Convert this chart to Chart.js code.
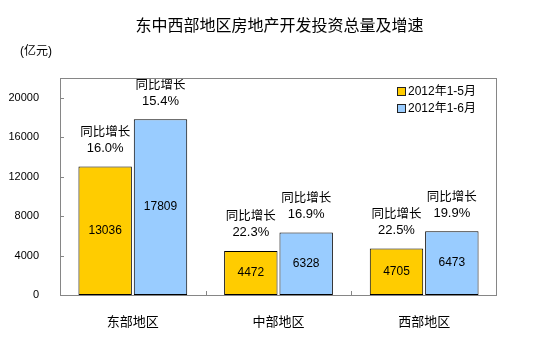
<!DOCTYPE html>
<html>
<head>
<meta charset="utf-8">
<script src="https://cdn.jsdelivr.net/npm/chart.js@4.4.0/dist/chart.umd.min.js"></script>
<style>
  html, body { margin: 0; padding: 0; background: #fff; }
  #wrap { width: 555px; height: 337px; }
</style>
</head>
<body>
<div id="wrap"><canvas id="myChart"></canvas></div>
<script>
var regions = ['东部地区', '中部地区', '西部地区'];
var seriesNames = ['2012年1-5月', '2012年1-6月'];
var investMay = [13036, 4472, 4705];
var investJun = [17809, 6328, 6473];
var growthMay = ['16.0%', '22.3%', '22.5%'];
var growthJun = ['15.4%', '16.9%', '19.9%'];
var yTicks = [0, 4000, 8000, 12000, 16000, 20000];
var chartTitle = '东中西部地区房地产开发投资总量及增速';
var unitLabel = '(亿元)';

var FONT = '"Liberation Sans", "Noto Sans CJK SC", sans-serif';
var growth = [growthMay, growthJun];

// frame around the plot area + inner tick marks
var framePlugin = {
  id: 'frame',
  afterDraw: function (chart) {
    var ctx = chart.ctx, a = chart.chartArea;
    var x = chart.scales.x, y = chart.scales.y;
    ctx.save();
    ctx.strokeStyle = '#868686';
    ctx.lineWidth = 1;
    ctx.strokeRect(Math.round(a.left) + 0.5, Math.round(a.top) + 0.5,
      Math.round(a.right - a.left) - 1, Math.round(a.bottom - a.top));
    ctx.beginPath();
    yTicks.forEach(function (v) {
      var py = Math.round(y.getPixelForValue(v)) + 0.5;
      ctx.moveTo(a.left, py);
      ctx.lineTo(a.left + 4, py);
    });
    for (var i = 1; i < regions.length; i++) {
      var px = Math.round((x.getPixelForValue(i - 1) + x.getPixelForValue(i)) / 2) + 0.5;
      ctx.moveTo(px, a.bottom);
      ctx.lineTo(px, a.bottom - 4);
    }
    ctx.stroke();
    ctx.restore();
  }
};

// value inside bars, growth rate above
var labelPlugin = {
  id: 'barLabels',
  afterDatasetsDraw: function (chart) {
    var ctx = chart.ctx;
    ctx.save();
    ctx.fillStyle = '#000';
    ctx.textAlign = 'center';
    ctx.textBaseline = 'middle';
    chart.data.datasets.forEach(function (ds, di) {
      chart.getDatasetMeta(di).data.forEach(function (bar, i) {
        ctx.font = '12px ' + FONT;
        ctx.fillText(String(ds.data[i]), bar.x, (bar.y + bar.base) / 2);
        ctx.font = '13px ' + FONT;
        ctx.fillText(growth[di][i], bar.x, bar.y - 18);
        ctx.font = '12.5px ' + FONT;
        ctx.fillText('同比增长', bar.x, bar.y - 34);
      });
    });
    ctx.restore();
  }
};

// title, unit, legend box in the top right corner of the plot
var textPlugin = {
  id: 'texts',
  afterDraw: function (chart) {
    var ctx = chart.ctx;
    ctx.save();
    ctx.fillStyle = '#000';
    ctx.textBaseline = 'middle';
    ctx.textAlign = 'center';
    ctx.font = '16px ' + FONT;
    ctx.fillText(chartTitle, 279.5, 27);
    ctx.textAlign = 'left';
    ctx.font = '12px ' + FONT;
    ctx.fillText(unitLabel, 20, 52);
    chart.data.datasets.forEach(function (ds, i) {
      var cy = 91.5 + i * 17;
      ctx.fillStyle = ds.backgroundColor;
      ctx.fillRect(397.5, cy - 4, 8, 8);
      ctx.strokeStyle = '#222';
      ctx.lineWidth = 1;
      ctx.strokeRect(397.5, cy - 4, 8, 8);
      ctx.fillStyle = '#000';
      ctx.fillText(ds.label, 408, cy);
    });
    ctx.restore();
  }
};

new Chart(document.getElementById('myChart').getContext('2d'), {
  type: 'bar',
  data: {
    labels: regions,
    datasets: [
      { label: seriesNames[0], data: investMay, backgroundColor: '#FFCC00',
        borderColor: '#000', borderWidth: 1, borderSkipped: false },
      { label: seriesNames[1], data: investJun, backgroundColor: '#99CCFF',
        borderColor: '#000', borderWidth: 1, borderSkipped: false }
    ]
  },
  options: {
    responsive: true,
    maintainAspectRatio: false,
    animation: false,
    layout: { padding: { top: 78, right: 58, bottom: 0, left: 0 } },
    datasets: { bar: { categoryPercentage: 0.76, barPercentage: 0.965 } },
    plugins: {
      legend: { display: false },
      tooltip: { enabled: false },
      title: { display: false }
    },
    scales: {
      x: {
        grid: { display: false },
        border: { display: false },
        ticks: { color: '#000', font: { family: FONT, size: 13 }, padding: 12 },
        afterFit: function (s) { s.height = 42; }
      },
      y: {
        min: 0,
        max: 22000,
        grid: { display: false },
        border: { display: false },
        afterBuildTicks: function (s) {
          s.ticks = yTicks.map(function (v) { return { value: v }; });
        },
        ticks: {
          color: '#000',
          font: { family: FONT, size: 11 },
          padding: 13,
          callback: function (v) { return String(v); }
        },
        afterFit: function (s) { s.width = 60; }
      }
    }
  },
  plugins: [framePlugin, labelPlugin, textPlugin]
});
</script>
</body>
</html>
